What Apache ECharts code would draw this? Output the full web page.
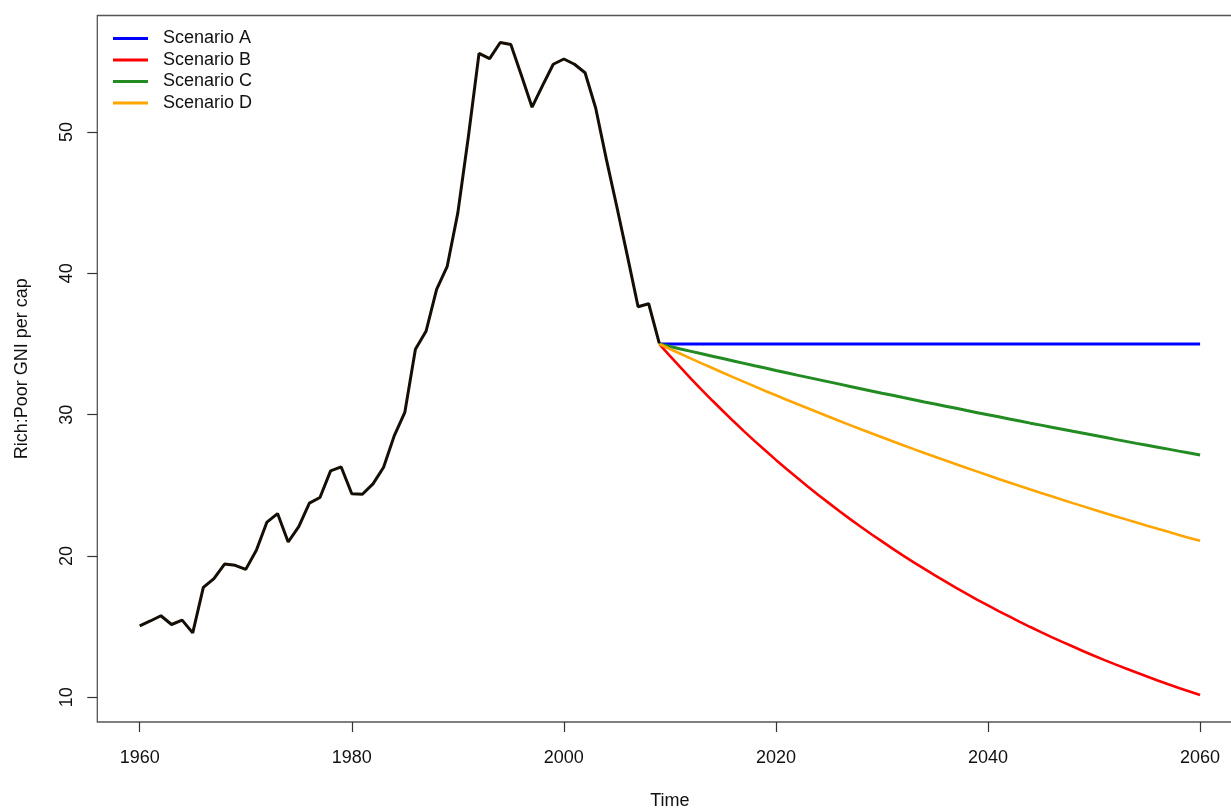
<!DOCTYPE html>
<html>
<head>
<meta charset="utf-8">
<script src="https://cdn.jsdelivr.net/npm/echarts@6/dist/echarts.min.js"></script>
<style>
html,body{margin:0;padding:0;background:#fff;}
#chart{width:1231px;height:809px;}
</style>
</head>
<body>
<div id="chart"></div>
<script>
// ---- data ----
var histYears = [1960,1961,1962,1963,1964,1965,1966,1967,1968,1969,
  1970,1971,1972,1973,1974,1975,1976,1977,1978,1979,
  1980,1981,1982,1983,1984,1985,1986,1987,1988,1989,
  1990,1991,1992,1993,1994,1995,1996,1997,1998,1999,
  2000,2001,2002,2003,2004,2005,2006,2007,2008,2009];
var histValues = [15.06,15.4,15.77,15.15,15.46,14.56,17.78,18.4,19.43,19.34,
  19.05,20.4,22.4,23.0,20.99,22.07,23.74,24.14,26.02,26.3,
  24.4,24.37,25.1,26.28,28.5,30.16,34.63,35.9,38.86,40.5,
  44.28,49.7,55.57,55.2,56.34,56.2,54.0,51.76,53.3,54.8,
  55.17,54.8,54.2,51.7,48.1,44.7,41.2,37.64,37.85,35.05];

var scenYears = [2009,2010,2011,2012,2013,2014,2015,2016,2017,2018,2019,
  2020,2021,2022,2023,2024,2025,2026,2027,2028,2029,
  2030,2031,2032,2033,2034,2035,2036,2037,2038,2039,
  2040,2041,2042,2043,2044,2045,2046,2047,2048,2049,
  2050,2051,2052,2053,2054,2055,2056,2057,2058,2059,2060];
var scenA = [35,35,35,35,35,35,35,35,35,35,35,
  35,35,35,35,35,35,35,35,35,35,
  35,35,35,35,35,35,35,35,35,35,
  35,35,35,35,35,35,35,35,35,35,
  35,35,35,35,35,35,35,35,35,35,35];
var scenB = [35.00,34.16,33.34,32.54,31.76,31.00,30.26,29.53,28.82,28.13,27.46,
  26.80,26.16,25.53,24.92,24.32,23.74,23.17,22.61,22.07,21.54,
  21.03,20.52,20.03,19.55,19.08,18.62,18.18,17.74,17.32,16.90,
  16.50,16.10,15.72,15.34,14.97,14.61,14.26,13.92,13.59,13.26,
  12.94,12.63,12.33,12.04,11.75,11.47,11.19,10.92,10.66,10.41,10.16];
var scenC = [35.00,34.83,34.65,34.48,34.31,34.14,33.97,33.80,33.63,33.46,33.30,
  33.13,32.97,32.80,32.64,32.48,32.32,32.16,32.00,31.84,31.68,
  31.52,31.37,31.21,31.06,30.90,30.75,30.60,30.45,30.29,30.14,
  29.99,29.85,29.70,29.55,29.40,29.26,29.11,28.97,28.82,28.68,
  28.54,28.40,28.25,28.11,27.97,27.84,27.70,27.56,27.42,27.29,27.15];
var scenD = [35.00,34.65,34.31,33.97,33.63,33.30,32.97,32.64,32.32,32.00,31.68,
  31.37,31.06,30.75,30.45,30.15,29.85,29.55,29.26,28.97,28.68,
  28.40,28.12,27.84,27.56,27.29,27.02,26.75,26.49,26.23,25.97,
  25.71,25.45,25.20,24.95,24.71,24.46,24.22,23.98,23.74,23.51,
  23.27,23.04,22.81,22.59,22.37,22.14,21.92,21.71,21.49,21.28,21.07];

var xTicks = [1960,1980,2000,2020,2040,2060];
var yTicks = [10,20,30,40,50];
var scenarioNames = ['Scenario A','Scenario B','Scenario C','Scenario D'];

function pairs(xs, ys){ return xs.map(function(x,i){ return [x, ys[i]]; }); }

var FONT = 'Liberation Sans, Arial, sans-serif';
var chart = echarts.init(document.getElementById('chart'), null, {renderer:'canvas'});

function scen(name, vals, color, w){
  return {
    name: name, type:'line', data: pairs(scenYears, vals),
    showSymbol:false, symbol:'none', smooth:false,
    lineStyle:{color:color, width:w}, itemStyle:{color:color},
    animation:false, z:3
  };
}

chart.setOption({
  animation:false,
  backgroundColor:'#ffffff',
  grid:{left:97.3, top:15.5, bottom:87, right:-11.5, show:true, outerBoundsMode:'none',
        containLabel:false,
        borderColor:'#555', borderWidth:1.3, backgroundColor:'transparent'},
  legend:{
    data: scenarioNames.map(function(n){ return {name:n, icon:'rect'}; }),
    orient:'vertical', left:113, top:29.5, padding:0,
    itemWidth:35, itemHeight:3, itemGap:3.5,
    textStyle:{fontFamily:FONT, fontSize:18, color:'#111', lineHeight:18, padding:[0,0,0,10]},
    selectedMode:false
  },
  xAxis:{
    type:'value', min:1956, max:2064,
    name:'Time', nameLocation:'middle', nameGap:70,
    nameTextStyle:{fontFamily:FONT, fontSize:18, color:'#111'},
    axisLine:{show:false},
    axisTick:{show:true, inside:false, length:10, lineStyle:{color:'#333', width:1.2}, customValues:xTicks},
    axisLabel:{show:true, margin:27, fontFamily:FONT, fontSize:18, color:'#111', customValues:xTicks,
      formatter:function(v){ return String(v); }},
    splitLine:{show:false}
  },
  yAxis:{
    type:'value', min:8.25, max:58.25,
    name:'Rich:Poor GNI per cap', nameLocation:'middle', nameGap:66, nameRotate:90,
    nameTextStyle:{fontFamily:FONT, fontSize:18, color:'#111'},
    axisLine:{show:false},
    axisTick:{show:true, inside:false, length:10, lineStyle:{color:'#333', width:1.2}, customValues:yTicks},
    axisLabel:{show:true, rotate:90, margin:21, fontFamily:FONT, fontSize:18, color:'#111', customValues:yTicks,
      formatter:function(v){ return String(v); }},
    splitLine:{show:false}
  },
  series:[
    scen('Scenario A', scenA, '#0000FF', 3),
    scen('Scenario B', scenB, '#FF0000', 2.6),
    scen('Scenario C', scenC, '#228B22', 3),
    scen('Scenario D', scenD, '#FFA500', 2.6),
    {name:'History', type:'line', data:pairs(histYears, histValues),
     showSymbol:false, symbol:'none', lineStyle:{color:'#140e05', width:3},
     itemStyle:{color:'#140e05'}, animation:false, z:4}
  ]
});
</script>
</body>
</html>
